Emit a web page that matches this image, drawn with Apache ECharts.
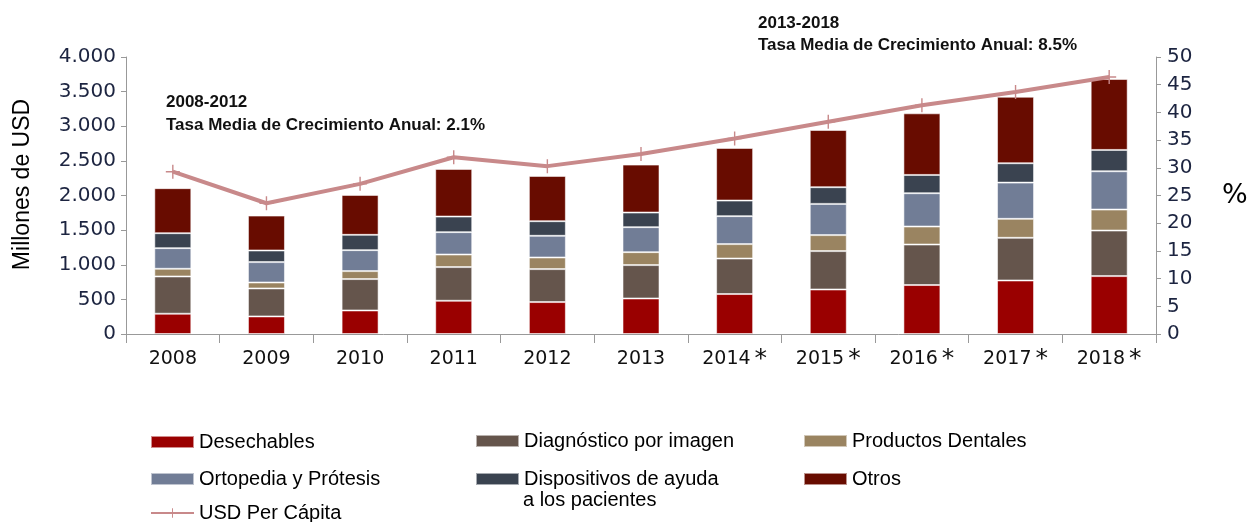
<!DOCTYPE html>
<html>
<head>
<meta charset="utf-8">
<script src="https://cdn.jsdelivr.net/npm/echarts@6/dist/echarts.min.js"></script>
<style>
  html, body { margin: 0; padding: 0; background: #fff; }
  #container { width: 1247px; height: 522px; }
</style>
</head>
<body>
<div id="container"></div>
<script>
// datos (millones de USD)
var years = ['2008', '2009', '2010', '2011', '2012', '2013', '2014*', '2015*', '2016*', '2017*', '2018*'];
var desechables = [293, 254, 340, 480, 461, 513, 577, 643, 707, 773, 836];
var diagnostico = [538, 404, 453, 486, 476, 482, 513, 554, 585, 616, 658];
var dentales = [111, 86, 115, 182, 168, 187, 208, 231, 260, 274, 303];
var ortopedia = [298, 294, 303, 323, 313, 361, 404, 451, 481, 523, 553];
var dispositivos = [216, 168, 221, 225, 211, 211, 225, 241, 264, 280, 308];
var otros = [650, 504, 577, 688, 654, 692, 760, 826, 890, 960, 1024];
// USD per capita (eje derecho)
var perCapita = [29.3, 23.6, 27.1, 31.9, 30.3, 32.5, 35.3, 38.3, 41.3, 43.7, 46.4];

var dom = document.getElementById('container');
var myChart = echarts.init(dom);

var axisFont = "'DejaVu Sans', Verdana, sans-serif";
var textFont = "'Liberation Sans', Arial, sans-serif";
var plus = 'path://M9,0 L11,0 L11,9 L20,9 L20,11 L11,11 L11,20 L9,20 L9,11 L0,11 L0,9 L9,9 Z';

function barSerie(name, data, color) {
  return {
    name: name,
    type: 'bar',
    stack: 'total',
    barWidth: 37,
    data: data,
    itemStyle: {
      color: color,
      borderColor: 'rgba(255,255,255,0.55)',
      borderWidth: 1
    }
  };
}
function rectItem(name) { return { name: name, icon: 'rect' }; }

var legendText = { fontFamily: textFont, fontSize: 20, color: '#000', lineHeight: 18 };
var annot = 'bold 17px ' + textFont;

var option = {
  animation: false,
  grid: { left: 126, right: 91, top: 57, bottom: 188, outerBoundsMode: 'none' },
  graphic: [
    { type: 'text', left: 166, top: 94, style: { text: '2008-2012', font: annot, fill: '#111' } },
    { type: 'text', left: 166, top: 117, style: { text: 'Tasa Media de Crecimiento Anual: 2.1%', font: annot, fill: '#111' } },
    { type: 'text', left: 758, top: 15, style: { text: '2013-2018', font: annot, fill: '#111' } },
    { type: 'text', left: 758, top: 37, style: { text: 'Tasa Media de Crecimiento Anual: 8.5%', font: annot, fill: '#111' } },
    // segunda linea de la leyenda "Dispositivos de ayuda"
    { type: 'text', left: 523, top: 490, style: { text: 'a los pacientes', font: '20px ' + textFont, fill: '#000' } }
  ],
  legend: [
    {
      orient: 'vertical', left: 150, top: 432, padding: 0, itemGap: 17,
      itemWidth: 43, itemHeight: 12, textStyle: legendText,
      data: [rectItem('Desechables'), rectItem('Ortopedia y Prótesis')]
    },
    {
      orient: 'vertical', left: 150, top: 503, padding: 0,
      itemWidth: 43, itemHeight: 12, textStyle: legendText,
      data: ['USD Per Cápita']
    },
    {
      orient: 'vertical', left: 475, top: 431, padding: 0, itemGap: 18,
      itemWidth: 43, itemHeight: 12, textStyle: legendText,
      formatter: function (n) { return n.indexOf('Dispositivos') === 0 ? 'Dispositivos de ayuda' : n; },
      data: [rectItem('Diagnóstico por imagen'), rectItem('Dispositivos de ayuda a los pacientes')]
    },
    {
      orient: 'vertical', left: 803, top: 431, padding: 0, itemGap: 18,
      itemWidth: 43, itemHeight: 12, textStyle: legendText,
      data: [rectItem('Productos Dentales'), rectItem('Otros')]
    }
  ],
  xAxis: {
    type: 'category',
    data: years,
    axisLine: { lineStyle: { color: '#999' } },
    axisTick: { show: true, length: 9, lineStyle: { color: '#999' } },
    axisLabel: {
      margin: 12,
      formatter: function (v) {
        if (v.charAt(v.length - 1) === '*') return '{y|' + v.slice(0, -1) + '}{s|*}';
        return '{y|' + v + '}';
      },
      rich: {
        y: { fontFamily: axisFont, fontSize: 19, color: '#111', lineHeight: 26 },
        s: { fontFamily: axisFont, fontSize: 25, color: '#111', lineHeight: 26, padding: [0, 0, 0, 4] }
      }
    }
  },
  yAxis: [
    {
      type: 'value', min: 0, max: 4000, interval: 500,
      name: 'Millones de USD', nameLocation: 'middle', nameGap: 92, nameRotate: 90,
      nameTextStyle: { fontFamily: textFont, fontSize: 23, color: '#000', padding: [0, 0, 0, 22] },
      axisLine: { show: true, lineStyle: { color: '#999' } },
      axisTick: { show: true, length: 5, lineStyle: { color: '#999' } },
      splitLine: { show: false },
      axisLabel: {
        margin: 10, fontFamily: axisFont, fontSize: 20, color: '#1c2440',
        formatter: function (v) { return v >= 1000 ? Math.floor(v / 1000) + '.' + ('00' + (v % 1000)).slice(-3) : String(v); }
      }
    },
    {
      type: 'value', min: 0, max: 50, interval: 5,
      name: '%', nameLocation: 'middle', nameGap: 66, nameRotate: 0,
      nameTextStyle: { fontFamily: axisFont, fontSize: 27, color: '#000' },
      axisLine: { show: true, lineStyle: { color: '#999' } },
      axisTick: { show: true, length: 5, lineStyle: { color: '#999' } },
      splitLine: { show: false },
      axisLabel: { margin: 11, fontFamily: axisFont, fontSize: 20, color: '#1c2440' }
    }
  ],
  series: [
    barSerie('Desechables', desechables, '#9a0000'),
    barSerie('Diagnóstico por imagen', diagnostico, '#65554c'),
    barSerie('Productos Dentales', dentales, '#9a8461'),
    barSerie('Ortopedia y Prótesis', ortopedia, '#717d96'),
    barSerie('Dispositivos de ayuda a los pacientes', dispositivos, '#3a4350'),
    barSerie('Otros', otros, '#680c00'),
    {
      name: 'USD Per Cápita',
      type: 'line',
      yAxisIndex: 1,
      data: perCapita,
      z: 5,
      symbol: plus,
      symbolSize: 14,
      lineStyle: { color: '#c8898a', width: 4 },
      itemStyle: { color: '#c8898a' }
    }
  ]
};

if (option && typeof option === 'object') {
  myChart.setOption(option, true);
}
</script>
</body>
</html>
